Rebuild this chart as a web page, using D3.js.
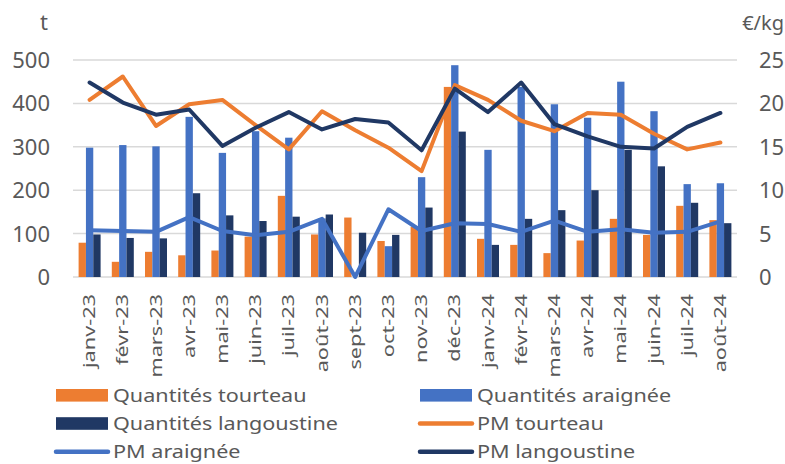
<!DOCTYPE html>
<html>
<head>
<meta charset="utf-8">
<script src="https://cdn.jsdelivr.net/npm/d3@7"></script>
<style>
  body { margin: 0; background: #fff; }
  text { font-family: "Noto Sans", sans-serif; fill: #595959; }
</style>
</head>
<body>
<svg id="chart" width="785" height="464"></svg>
<script>
const months = ["janv-23","févr-23","mars-23","avr-23","mai-23","juin-23","juil-23","août-23","sept-23","oct-23","nov-23","déc-23",
  "janv-24","févr-24","mars-24","avr-24","mai-24","juin-24","juil-24","août-24"];

const qteTourteau    = [79, 35, 58, 50, 61, 93, 187, 98, 137, 83, 116, 438, 88, 74, 55, 84, 134, 97, 164, 131];
const qteAraignee    = [298, 304, 301, 369, 286, 336, 321, 135, 0, 71, 230, 488, 293, 438, 398, 367, 450, 382, 214, 216];
const qteLangoustine = [98, 90, 89, 193, 142, 129, 139, 144, 102, 97, 160, 335, 74, 134, 154, 200, 293, 255, 171, 124];

const pmTourteau    = [20.4, 23.1, 17.4, 19.9, 20.4, 17.5, 14.7, 19.1, 16.9, 14.9, 12.2, 22.1, 20.4, 18.0, 16.8, 18.9, 18.7, 16.5, 14.7, 15.5];
const pmAraignee    = [5.4, 5.3, 5.2, 6.9, 5.3, 4.8, 5.2, 6.7, 0, 7.8, 5.3, 6.2, 6.1, 5.2, 6.5, 5.2, 5.5, 5.1, 5.2, 6.4];
const pmLangoustine = [22.4, 20.1, 18.7, 19.3, 15.1, 17.2, 19.0, 17.0, 18.2, 17.8, 14.6, 21.7, 19.0, 22.4, 17.6, 16.2, 15.0, 14.8, 17.3, 18.9];

const leftTicks = [0, 100, 200, 300, 400, 500];
const rightTicks = [0, 5, 10, 15, 20, 25];

const ORANGE = "#ED7D31", BLUE = "#4472C4", NAVY = "#203864";

const svg = d3.select("#chart");
const plot = { x0: 73, x1: 737, y0: 277, y1: 60 };

/* scales */
let xScale = d3.scaleBand().domain(months).range([plot.x0, plot.x1]);
let barScale = d3.scaleBand().domain(["t", "a", "l"]).range([-11, 11]);
let yLeft = d3.scaleLinear().domain([0, 500]).range([plot.y0, plot.y1]);
let yRight = d3.scaleLinear().domain([0, 25]).range([plot.y0, plot.y1]);

/* gridlines */
svg.append("g").selectAll("line")
  .data(leftTicks)
  .join("line")
  .attr("x1", plot.x0).attr("x2", plot.x1)
  .attr("y1", d => yLeft(d)).attr("y2", d => yLeft(d))
  .attr("stroke", "#d9d9d9").attr("stroke-width", 1.5);

/* axis tick labels */
svg.append("g").selectAll("text")
  .data(leftTicks)
  .join("text")
  .attr("x", 50).attr("y", d => yLeft(d))
  .attr("dy", "0.36em")
  .attr("text-anchor", "end")
  .style("font-size", "22px")
  .text(d => d);

svg.append("g").selectAll("text")
  .data(rightTicks)
  .join("text")
  .attr("x", 759).attr("y", d => yRight(d))
  .attr("dy", "0.36em")
  .style("font-size", "22px")
  .text(d => d);

svg.append("text").attr("x", 44).attr("y", 30).attr("text-anchor", "middle")
  .style("font-size", "22px").text("t");
svg.append("text").attr("x", 784).attr("y", 30).attr("text-anchor", "end")
  .style("font-size", "20px").text("€/kg");

/* bars */
const series = [
  { key: "t", values: qteTourteau, color: ORANGE },
  { key: "a", values: qteAraignee, color: BLUE },
  { key: "l", values: qteLangoustine, color: NAVY }
];

svg.append("g").attr("id", "bars").selectAll("g")
  .data(series)
  .join("g")
  .attr("fill", s => s.color)
  .selectAll("rect")
  .data(s => s.values.map((v, i) => ({ key: s.key, month: months[i], v })))
  .join("rect")
  .attr("x", d => xScale(d.month) + xScale.bandwidth() / 2 + barScale(d.key))
  .attr("width", barScale.bandwidth())
  .attr("y", d => yLeft(d.v))
  .attr("height", d => yLeft(0) - yLeft(d.v));

/* lines */
const lines = [
  { values: pmTourteau, color: ORANGE },
  { values: pmAraignee, color: BLUE },
  { values: pmLangoustine, color: NAVY }
];
let line = d3.line()
  .x((d, i) => xScale(months[i]) + xScale.bandwidth() / 2)
  .y(d => yRight(d));

svg.append("g").selectAll("path")
  .data(lines)
  .join("path")
  .attr("d", d => line(d.values))
  .attr("fill", "none")
  .attr("stroke", d => d.color)
  .attr("stroke-width", 4)
  .attr("stroke-linejoin", "round")
  .attr("stroke-linecap", "round");

/* x labels */
svg.append("g").selectAll("text")
  .data(months)
  .join("text")
  .attr("transform", d => "translate(" + (xScale(d) + xScale.bandwidth() / 2) + ",294) rotate(-90) scale(1.4,1)")
  .attr("dy", "0.36em")
  .attr("text-anchor", "end")
  .style("font-size", "15.5px")
  .text(d => d);

/* legend */
const legend = [
  { label: "Quantités tourteau", color: ORANGE, type: "bar", x: 56, y: 395.3 },
  { label: "Quantités araignée", color: BLUE, type: "bar", x: 420, y: 395.3 },
  { label: "Quantités langoustine", color: NAVY, type: "bar", x: 56, y: 423.5 },
  { label: "PM tourteau", color: ORANGE, type: "line", x: 420, y: 423.5 },
  { label: "PM araignée", color: BLUE, type: "line", x: 56, y: 451.7 },
  { label: "PM langoustine", color: NAVY, type: "line", x: 420, y: 451.7 }
];
let lg = svg.append("g").selectAll("g")
  .data(legend)
  .join("g")
  .attr("transform", d => "translate(" + d.x + "," + d.y + ")");

lg.filter(d => d.type === "bar").append("rect")
  .attr("x", 0).attr("y", -6.3).attr("width", 52).attr("height", 12.6)
  .attr("fill", d => d.color);
lg.filter(d => d.type === "line").append("line")
  .attr("x1", 0).attr("x2", 52).attr("y1", 0).attr("y2", 0)
  .attr("stroke", d => d.color).attr("stroke-width", 4.5).attr("stroke-linecap", "round");
lg.append("text")
  .attr("transform", "translate(57,0) scale(1.2,1)")
  .attr("dy", "0.36em")
  .style("font-size", "18px")
  .text(d => d.label);
</script>
</body>
</html>
